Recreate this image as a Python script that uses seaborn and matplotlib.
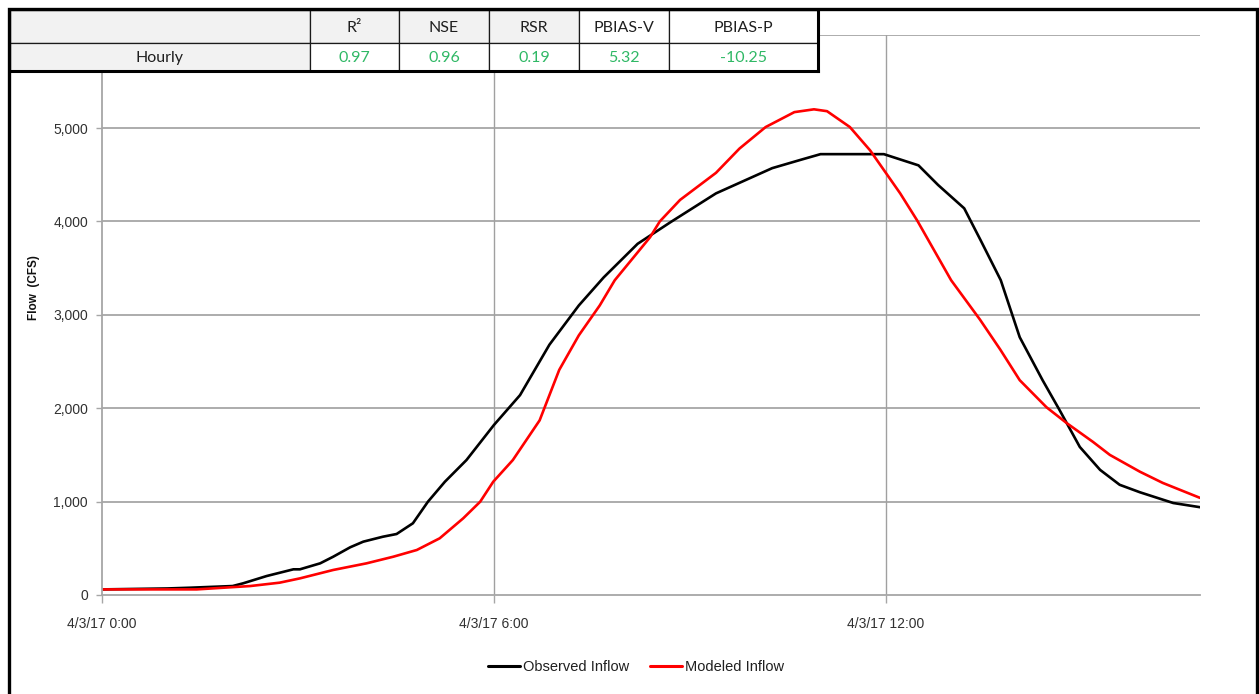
import matplotlib
matplotlib.use("Agg")
import matplotlib.pyplot as plt
import matplotlib.ticker as mticker
import matplotlib.dates as mdates
from matplotlib.lines import Line2D
from matplotlib.patches import Rectangle
import numpy as np
import pandas as pd
import seaborn as sns

# ---- data -------------------------------------------------------------
start = pd.Timestamp("2017-04-03 00:00")

obs_hours = [0.0, 1.0, 1.35, 2.0, 2.16, 2.52, 2.93, 3.03, 3.34, 3.54,
             3.8, 4.0, 4.3, 4.51, 4.76, 4.99, 5.25, 5.58, 6.0, 6.4,
             6.85, 7.3, 7.68, 8.2, 8.7, 9.4, 10.26, 10.7, 11.0, 11.97,
             12.5, 12.8, 13.2, 13.45, 13.76, 14.05, 14.4, 14.66, 14.77, 14.97,
             15.28, 15.58, 15.89, 16.4, 16.81]
obs_cfs = [60, 70, 78, 96, 125, 203, 275, 275, 339, 410,
           511, 571, 624, 653, 768, 999, 1213, 1445, 1820, 2140,
           2680, 3100, 3400, 3760, 3990, 4300, 4570, 4660, 4720, 4720,
           4600, 4390, 4140, 3800, 3370, 2760, 2300, 1980, 1840, 1585,
           1340, 1180, 1100, 985, 940]

mod_hours = [0.0, 1.45, 2.27, 2.72, 3.03, 3.54, 4.05, 4.46, 4.82, 5.17,
             5.53, 5.79, 5.99, 6.29, 6.7, 7.0, 7.3, 7.62, 7.85, 8.39,
             8.54, 8.85, 9.4, 9.76, 10.16, 10.6, 10.9, 11.1, 11.45, 11.76,
             12.0, 12.22, 12.48, 13.0, 13.44, 13.75, 14.05, 14.46, 14.77, 15.17,
             15.43, 15.89, 16.24, 16.81]
mod_cfs = [60, 60, 96, 132, 178, 268, 339, 410, 482, 607,
           821, 999, 1213, 1445, 1870, 2410, 2780, 3100, 3370, 3830,
           4000, 4230, 4520, 4780, 5010, 5170, 5200, 5180, 5010, 4760,
           4520, 4300, 4010, 3370, 2950, 2630, 2300, 2010, 1840, 1640,
           1500, 1320, 1200, 1040]

series_names = ["Observed Inflow", "Modeled Inflow"]
series_colors = ["#000000", "#ff0000"]

stat_headers = ["R\u00b2", "NSE", "RSR", "PBIAS-V", "PBIAS-P"]
stat_row_label = "Hourly"
stat_values = ["0.97", "0.96", "0.19", "5.32", "-10.25"]

y_ticks = [0, 1000, 2000, 3000, 4000, 5000, 6000]
x_tick_hours = [0, 6, 12]

# ---- frame ------------------------------------------------------------
df = pd.concat([
    pd.DataFrame({"time": start + pd.to_timedelta(obs_hours, unit="h"),
                  "cfs": obs_cfs, "series": series_names[0]}),
    pd.DataFrame({"time": start + pd.to_timedelta(mod_hours, unit="h"),
                  "cfs": mod_cfs, "series": series_names[1]}),
], ignore_index=True)

sns.set_style("white")
plt.rcParams["font.family"] = ["Liberation Sans Narrow", "Liberation Sans", "DejaVu Sans"]

W, H = 1259, 694
fig = plt.figure(figsize=(W / 100, H / 100), dpi=100)
ax = fig.add_axes([102 / W, 99 / H, 1098 / W, (595 - 34.6) / H])

sns.lineplot(data=df, x="time", y="cfs", hue="series", hue_order=series_names,
             palette=dict(zip(series_names, series_colors)), linewidth=1.9,
             ax=ax, legend=False, sort=True)

ax.set_xlim(start, start + pd.Timedelta(hours=max(obs_hours[-1], mod_hours[-1])))
ax.set_ylim(0, 6000)

grid_col = "#a6a6a6"
ax.set_yticks(y_ticks)
ax.yaxis.set_major_formatter(mticker.FuncFormatter(lambda v, p: f"{int(v):,}"))
ax.set_xticks([start + pd.Timedelta(hours=h) for h in x_tick_hours])


def fmt_date(v, pos):
    d = mdates.num2date(v)
    return f"{d.month}/{d.day}/{d.year % 100} {d.hour}:{d.minute:02d}"


ax.xaxis.set_major_formatter(mticker.FuncFormatter(fmt_date))

ax.grid(False)
for yv in y_ticks[1:]:
    ax.axhline(yv, color=grid_col, lw=1.3, zorder=0)
for h in x_tick_hours[1:]:
    ax.axvline(start + pd.Timedelta(hours=h), color="#a0a0a0", lw=1.0, zorder=0)

for side in ["top", "right"]:
    ax.spines[side].set_visible(False)
for side in ["left", "bottom"]:
    ax.spines[side].set_color(grid_col)
    ax.spines[side].set_linewidth(1.3)

ax.tick_params(axis="x", direction="out", length=6, width=1, color=grid_col,
               pad=10, labelsize=10, labelcolor="#303030", bottom=True)
ax.tick_params(axis="y", direction="out", length=4, width=1, color=grid_col,
               pad=6, labelsize=10, labelcolor="#303030", left=True)

ax.set_xlabel("")
ax.set_ylabel("Flow  (CFS)", fontsize=8.5, fontweight="bold", color="#111111",
              family=["Liberation Sans", "DejaVu Sans"])
ax.yaxis.set_label_coords(-0.0565, 0.548)

handles = [Line2D([], [], color=c, lw=2.2) for c in series_colors]
fig.legend(handles, series_names, loc="center", bbox_to_anchor=(636 / W, 1 - 667 / H),
           ncol=2, frameon=False, fontsize=10.5, handlelength=2.2, handletextpad=0.2,
           columnspacing=1.4, labelcolor="#202020")

# ---- overlay: outer frame and statistics table -----------------------
ov = fig.add_axes([0, 0, 1, 1], zorder=10)
ov.set_xlim(0, W)
ov.set_ylim(H, 0)
ov.axis("off")
ov.patch.set_alpha(0)

col_x = [10, 310, 399, 489, 579, 669, 818]
row_y = [10, 43, 71]
header_fill = ["#f2f2f2", "#f2f2f2", "#f2f2f2", "#f2f2f2", "#ffffff", "#ffffff"]
body_fill = ["#f2f2f2", "#ffffff", "#ffffff", "#ffffff", "#ffffff", "#ffffff"]
header_text = [""] + stat_headers
body_text = [stat_row_label] + stat_values
table_font = ["Lato", "DejaVu Sans"]

for r, (fills, texts) in enumerate([(header_fill, header_text), (body_fill, body_text)]):
    y0, y1 = row_y[r], row_y[r + 1]
    for c in range(len(col_x) - 1):
        x0, x1 = col_x[c], col_x[c + 1]
        ov.add_patch(Rectangle((x0, y0), x1 - x0, y1 - y0, facecolor=fills[c],
                               edgecolor="#1a1a1a", lw=0.9))
        color = "#1f1f1f" if (r == 0 or c == 0) else "#2fb865"
        ov.text((x0 + x1) / 2, (y0 + y1) / 2 + 1, texts[c], ha="center", va="center",
                fontsize=11.5, color=color, family=table_font)

# heavy right and bottom edges of the table
ov.plot([col_x[0], col_x[-1]], [row_y[-1], row_y[-1]], color="black", lw=2.2,
        solid_capstyle="projecting")
ov.plot([col_x[-1], col_x[-1]], [row_y[0], row_y[-1]], color="black", lw=2.2,
        solid_capstyle="projecting")

# chart-area border
ov.plot([9, 9, 1257, 1257], [H + 5, 9, 9, H + 5], color="black", lw=2.4,
        solid_joinstyle="miter")

fig.savefig("out.png", dpi=100)
